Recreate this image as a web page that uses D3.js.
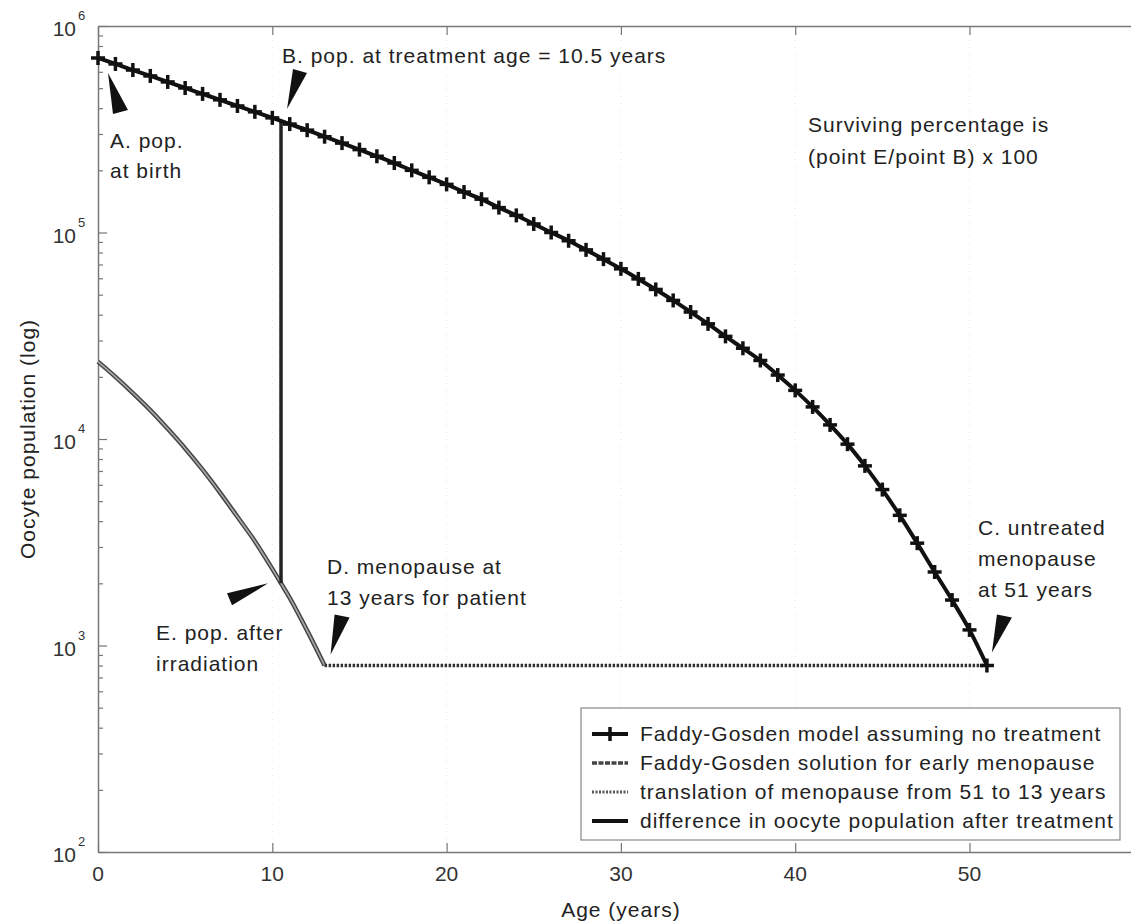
<!DOCTYPE html>
<html>
<head>
  <meta charset="utf-8">
  <script src="https://cdn.jsdelivr.net/npm/d3@7"></script>
  <style>
    body { margin: 0; background: #fff; }
    svg text { font-family: "Liberation Sans", Arial, sans-serif; fill: #222; }
    .lbl { font-size: 21px; letter-spacing: 1px; }
  </style>
</head>
<body>
<div id="chart"></div>
<script>

  // ages (years) for the untreated model, one marker per year
  var modelAges = [0,1,2,3,4,5,6,7,8,9,10,11,12,13,14,15,16,17,18,19,20,21,22,23,24,25,
                   26,27,28,29,30,31,32,33,34,35,36,37,38,39,40,41,42,43,44,45,46,47,48,49,50,51];
  var modelPop = [700000,655000,612000,573000,536000,501000,469000,439000,410000,384000,
                  359000,335000,313000,291000,271000,252000,234000,217000,200000,185000,
                  171000,157000,145000,132000,121000,110000,100000,91200,82400,74300,
                  66700,59600,53000,46900,41200,36100,31400,27500,24000,20400,
                  17200,14300,11700,9440,7410,5690,4270,3130,2270,1660,1190,800];

  // early menopause solution (after irradiation)
  var earlyAges = [0,1,2,3,4,5,6,7,8,9,10,10.5,11,12,13];
  var earlyPop  = [23700,20000,16700,13800,11200,9000,7100,5500,4200,3200,2350,2000,1700,1180,800];

  // translation of menopause from 51 to 13
  var shiftAges = [13, 51];
  var shiftPop  = [800, 800];

  // difference at treatment age
  var diffAges = [10.5, 10.5];
  var diffPop  = [347000, 2000];

  var xTicks = [0, 10, 20, 30, 40, 50, 60];
  var yDecades = [1e2, 1e3, 1e4, 1e5, 1e6];
  var yExponents = ['2', '3', '4', '5', '6'];

  var legendLabels = [
    'Faddy-Gosden model assuming no treatment',
    'Faddy-Gosden solution for early menopause',
    'translation of menopause from 51 to 13 years',
    'difference in oocyte population after treatment'
  ];

  var W = 1131, H = 922;
  var plotLeft = 98, plotTop = 26, plotBottom = 852;

  var x = d3.scaleLinear().domain([0, 60]).range([plotLeft, plotLeft + 60 * 17.43]);
  var y = d3.scaleLog().domain([1e2, 1e6]).range([plotBottom, plotTop]);

  var svg = d3.select('#chart').append('svg')
    .attr('width', W).attr('height', H);

  // faint dotted grid
  svg.append('g').selectAll('line').data(xTicks.slice(1)).enter().append('line')
    .attr('x1', function(d){ return x(d); }).attr('x2', function(d){ return x(d); })
    .attr('y1', plotTop).attr('y2', plotBottom)
    .attr('stroke', '#e4e4e4').attr('stroke-width', 1).attr('stroke-dasharray', '1,6');

  // axes
  var minor = [];
  yDecades.forEach(function(d){ if (d < 1e6) for (var k = 2; k <= 9; k++) minor.push(d * k); });

  var axisStyle = function(g) {
    g.selectAll('path.domain').attr('stroke', '#777').attr('stroke-width', 1.5);
    g.selectAll('.tick line').attr('stroke', '#777').attr('stroke-width', 1.2);
    g.selectAll('.tick text').remove();
  };

  svg.append('g').attr('transform', 'translate(0,' + plotBottom + ')')
    .call(d3.axisBottom(x).tickValues(xTicks).tickSizeInner(-9).tickSizeOuter(0))
    .call(axisStyle);
  svg.append('g').attr('transform', 'translate(0,' + plotTop + ')')
    .call(d3.axisTop(x).tickValues(xTicks).tickSizeInner(-9).tickSizeOuter(0))
    .call(axisStyle);
  svg.append('g').attr('transform', 'translate(' + plotLeft + ',0)')
    .call(d3.axisLeft(y).tickValues(yDecades).tickSizeInner(-9).tickSizeOuter(0))
    .call(axisStyle);
  svg.append('g').attr('transform', 'translate(' + plotLeft + ',0)')
    .call(d3.axisLeft(y).tickValues(minor).tickSizeInner(-5).tickSizeOuter(0))
    .call(axisStyle)
    .select('path.domain').remove();

  // tick labels
  svg.append('g').selectAll('text').data(xTicks).enter().append('text')
    .attr('x', function(d){ return x(d); }).attr('y', 881)
    .attr('text-anchor', 'middle').style('font-size', '21px').style('fill', '#333')
    .text(function(d){ return d; });

  var yl = svg.append('g').selectAll('g').data(yDecades).enter().append('g');
  yl.append('text')
    .attr('x', 76).attr('y', function(d){ return y(d) + 10; })
    .attr('text-anchor', 'end').style('font-size', '21px').style('fill', '#333').text('10');
  yl.append('text')
    .attr('x', 78).attr('y', function(d){ return y(d) - 6; })
    .style('font-size', '13px').style('fill', '#333').text(function(d, i){ return yExponents[i]; });

  svg.append('text').attr('class', 'lbl').attr('x', x(30)).attr('y', 917)
    .attr('text-anchor', 'middle').text('Age (years)');
  svg.append('text').attr('class', 'lbl')
    .attr('transform', 'translate(35,' + ((plotTop + plotBottom) / 2) + ') rotate(-90)')
    .attr('text-anchor', 'middle').text('Oocyte population (log)');

  // series
  var line = function(ages, pops, curve) {
    return d3.line().curve(curve || d3.curveLinear)
      .x(function(d){ return x(d); })
      .y(function(d, i){ return y(pops[i]); })(ages);
  };

  // early menopause: grey line with dark edges
  svg.append('path').attr('d', line(earlyAges, earlyPop, d3.curveCatmullRom))
    .attr('fill', 'none').attr('stroke', '#444').attr('stroke-width', 4.5);
  svg.append('path').attr('d', line(earlyAges, earlyPop, d3.curveCatmullRom))
    .attr('fill', 'none').attr('stroke', '#aaa').attr('stroke-width', 1.6);

  // translation (dotted)
  svg.append('path').attr('d', line(shiftAges, shiftPop))
    .attr('fill', 'none').attr('stroke', '#333').attr('stroke-width', 3.5)
    .attr('stroke-dasharray', '2.5,1.5');

  // difference
  svg.append('path').attr('d', line(diffAges, diffPop))
    .attr('fill', 'none').attr('stroke', '#222').attr('stroke-width', 3.5);

  // untreated model
  svg.append('path').attr('d', line(modelAges, modelPop, d3.curveMonotoneX))
    .attr('fill', 'none').attr('stroke', '#111').attr('stroke-width', 4);

  var plus = function(sel, size) {
    sel.append('line').attr('x1', -size).attr('x2', size).attr('y1', 0).attr('y2', 0);
    sel.append('line').attr('x1', 0).attr('x2', 0).attr('y1', -size).attr('y2', size);
  };
  svg.append('g').attr('stroke', '#111').attr('stroke-width', 3.5)
    .selectAll('g').data(modelAges).enter().append('g')
    .attr('transform', function(d, i){ return 'translate(' + x(d) + ',' + y(modelPop[i]) + ')'; })
    .call(plus, 7);

  // annotation wedges: target point, tip offset, two base points relative to tip
  var wedges = [
    { a: 0,    p: 700000, tip: [10, 15],  b1: [5, 41],   b2: [20, 37] },
    { a: 10.5, p: 347000, tip: [6, -12],  b1: [6, -40],  b2: [20, -36] },
    { a: 51,   p: 800,    tip: [5, -13],  b1: [5, -38],  b2: [20, -35] },
    { a: 13,   p: 800,    tip: [6, -11],  b1: [4, -40],  b2: [19, -37] },
    { a: 10.5, p: 2000,   tip: [-13, 0],  b1: [-41, 10], b2: [-36, 22] }
  ];
  svg.append('g').selectAll('path').data(wedges).enter().append('path')
    .attr('fill', '#111')
    .attr('d', function(w) {
      var tx = x(w.a) + w.tip[0], ty = y(w.p) + w.tip[1];
      return 'M' + tx + ',' + ty + 'L' + (tx + w.b1[0]) + ',' + (ty + w.b1[1]) +
             'L' + (tx + w.b2[0]) + ',' + (ty + w.b2[1]) + 'Z';
    });

  var notes = [
    { x: 110, y: 148, t: 'A. pop.' },
    { x: 110, y: 178, t: 'at birth' },
    { x: 282, y: 63,  t: 'B. pop. at treatment age = 10.5 years' },
    { x: 808, y: 132, t: 'Surviving percentage is' },
    { x: 808, y: 164, t: '(point E/point B) x 100' },
    { x: 978, y: 535, t: 'C. untreated' },
    { x: 978, y: 566, t: 'menopause' },
    { x: 978, y: 597, t: 'at 51 years' },
    { x: 327, y: 574, t: 'D. menopause at' },
    { x: 327, y: 605, t: '13 years for patient' },
    { x: 156, y: 640, t: 'E. pop. after' },
    { x: 156, y: 671, t: 'irradiation' }
  ];
  svg.append('g').selectAll('text').data(notes).enter().append('text')
    .attr('class', 'lbl')
    .attr('x', function(d){ return d.x; }).attr('y', function(d){ return d.y; })
    .text(function(d){ return d.t; });

  // legend
  var lg = svg.append('g');
  lg.append('rect').attr('x', 581).attr('y', 708).attr('width', 539).attr('height', 132)
    .attr('fill', '#fff').attr('stroke', '#888').attr('stroke-width', 1.2);
  var rows = [734, 763, 792, 821];
  var lx1 = 592, lx2 = 628;
  lg.append('line').attr('x1', lx1).attr('x2', lx2).attr('y1', rows[0]).attr('y2', rows[0])
    .attr('stroke', '#111').attr('stroke-width', 4);
  lg.append('g').attr('stroke', '#111').attr('stroke-width', 3.5)
    .attr('transform', 'translate(' + ((lx1 + lx2) / 2) + ',' + rows[0] + ')').call(plus, 7);
  lg.append('line').attr('x1', lx1).attr('x2', lx2).attr('y1', rows[1]).attr('y2', rows[1])
    .attr('stroke', '#444').attr('stroke-width', 3.5).attr('stroke-dasharray', '5,1.5');
  lg.append('line').attr('x1', lx1).attr('x2', lx2).attr('y1', rows[2]).attr('y2', rows[2])
    .attr('stroke', '#555').attr('stroke-width', 3).attr('stroke-dasharray', '2,1.5');
  lg.append('line').attr('x1', lx1).attr('x2', lx2).attr('y1', rows[3]).attr('y2', rows[3])
    .attr('stroke', '#111').attr('stroke-width', 4);
  lg.selectAll('text.leg').data(legendLabels).enter().append('text')
    .attr('class', 'lbl')
    .attr('x', 640).attr('y', function(d, i){ return rows[i] + 7; })
    .text(function(d){ return d; });

</script>
</body>
</html>
